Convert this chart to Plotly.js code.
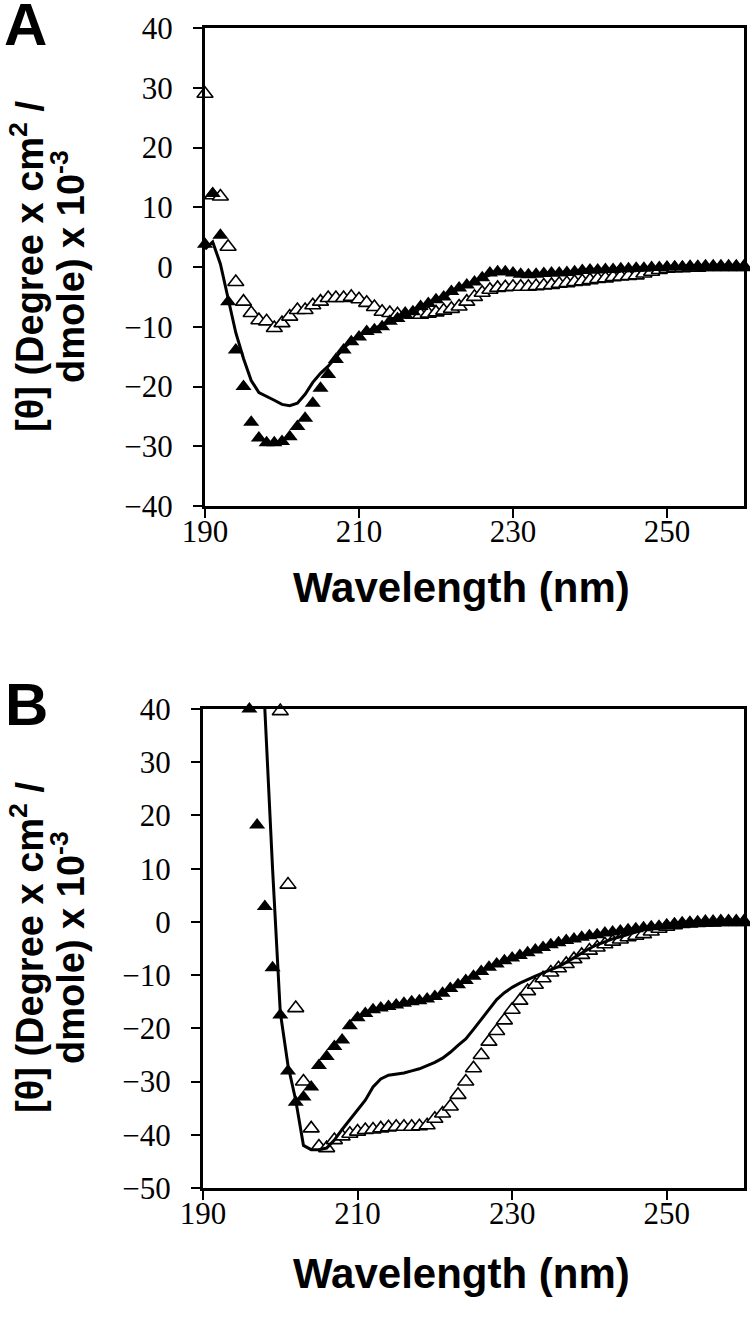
<!DOCTYPE html>
<html>
<head>
<meta charset="utf-8">
<script src="https://cdn.plot.ly/plotly-3.0.1.min.js"></script>
<style>html,body{margin:0;padding:0;background:#fff;}#chart{width:750px;height:1332px;}</style>
</head>
<body>
<div id="chart"></div>
<script>
// ---------- Panel A ----------
const wlA = [190,191,192,193,194,195,196,197,198,199,200,201,202,203,204,205,206,207,208,209,210,211,212,213,214,215,216,217,218,219,220,221,222,223,224,225,226,227,228,229,230,231,232,233,234,235,236,237,238,239,240,241,242,243,244,245,246,247,248,249,250,251,252,253,254,255,256,257,258,259,260];
const filledA = [3.8,12.3,5.3,-5.8,-13.9,-20,-26,-28.6,-29.4,-29.4,-29.2,-28.4,-26.7,-25.3,-22.8,-20.3,-18,-15.5,-13.9,-12.5,-11.7,-10.8,-10.5,-10,-9.1,-8.6,-8,-7.5,-6.6,-6.1,-5.5,-5,-4.1,-3.5,-3,-2.5,-1.8,-1.0,-0.8,-0.8,-1.0,-1.2,-1.3,-1.2,-1.1,-1.0,-1.0,-0.9,-0.8,-0.6,-0.5,-0.5,-0.4,-0.4,-0.3,-0.3,-0.2,-0.2,-0.1,-0.1,0,0,0,0,0,0,0,0,0,0,0];
const openA = [29,12,11.8,3.4,-2.5,-5.8,-7.7,-8.9,-9.1,-10.2,-9.4,-8.3,-7.2,-7.2,-6.4,-5.8,-5.2,-5.2,-5.2,-5.0,-5.4,-6.0,-6.7,-7.5,-7.7,-7.9,-7.9,-8.0,-8.0,-7.8,-7.6,-7.3,-7.0,-6.6,-5.8,-5.0,-4.3,-3.8,-3.5,-3.4,-3.3,-3.3,-3.3,-3.2,-3.1,-3.0,-2.8,-2.7,-2.5,-2.4,-2.2,-2.0,-1.9,-1.7,-1.6,-1.5,-1.4,-1.1,-0.8,-0.5,-0.3,-0.2,-0.2,-0.1,-0.1,0,0,0,0,0,0];
const lineA = [3.0,4.2,0.5,-5.5,-11,-15.3,-19,-21,-21.6,-22.3,-23,-23.2,-22.8,-21.3,-19.3,-17.8,-16.6,-15.0,-13.6,-12.4,-11.5,-10.8,-10.3,-9.8,-9.2,-8.6,-8.0,-7.5,-6.8,-6.2,-5.6,-5.0,-4.3,-3.6,-3.0,-2.5,-1.9,-1.3,-1.0,-1.0,-1.1,-1.2,-1.2,-1.2,-1.1,-1.0,-1.0,-0.9,-0.8,-0.6,-0.5,-0.5,-0.4,-0.4,-0.3,-0.3,-0.2,-0.2,-0.1,-0.1,0,0,0,0,0,0,0,0,0,0,0];

// ---------- Panel B ----------
const wlFilledB = [196,197,198,199,200,201,202,203,204,205,206,207,208,209,210,211,212,213,214,215,216,217,218,219,220,221,222,223,224,225,226,227,228,229,230,231,232,233,234,235,236,237,238,239,240,241,242,243,244,245,246,247,248,249,250,251,252,253,254,255,256,257,258,259,260];
const filledB = [40,18.2,2.9,-8.6,-17.5,-28,-33.9,-32.9,-31,-27,-25.3,-23.4,-22.2,-19.5,-18,-17.2,-16.5,-16.2,-15.9,-15.6,-15.3,-15.0,-14.8,-14.5,-14.0,-13.4,-12.5,-11.8,-11.0,-10.2,-9.3,-8.5,-7.9,-7.3,-6.8,-6.3,-5.8,-5.3,-4.8,-4.3,-3.9,-3.5,-3.2,-2.9,-2.6,-2.4,-2.1,-1.9,-1.7,-1.5,-1.3,-1.1,-0.9,-0.8,-0.6,-0.5,-0.4,-0.3,-0.3,-0.2,-0.2,-0.1,-0.1,0,0];
const wlOpenB = [200,201,202,203,204,205,206,207,208,209,210,211,212,213,214,215,216,217,218,219,220,221,222,223,224,225,226,227,228,229,230,231,232,233,234,235,236,237,238,239,240,241,242,243,244,245,246,247,248,249,250,251,252,253,254,255,256,257,258,259,260];
const openB = [39.6,7,-16.2,-30,-38.8,-42.2,-42.5,-41,-40.3,-39.8,-39.4,-39.1,-39,-38.8,-38.6,-38.5,-38.5,-38.5,-38.4,-38.2,-37,-36,-34.7,-32.5,-30,-27.5,-25,-22.5,-20.5,-18.5,-16.5,-14.8,-13,-11.8,-10.6,-9.5,-8.7,-7.9,-7,-6.2,-5.4,-4.8,-4.2,-3.7,-3.3,-2.9,-2.6,-2.3,-1.8,-1.3,-0.9,-0.6,-0.4,-0.3,-0.2,-0.1,-0.1,0,0,0,0];
const wlLineB = [198,199,200,201,202,203,204,205,206,207,208,209,210,211,212,213,214,215,216,217,218,219,220,221,222,223,224,225,226,227,228,229,230,231,232,233,234,235,236,237,238,239,240,241,242,243,244,245,246,247,248,249,250,251,252,253,254,255,256,257,258,259,260];
const lineB = [40,10,-17,-27,-33.5,-42,-42.8,-42.8,-42.5,-41,-39,-37.2,-35.5,-33.5,-31,-29.5,-28.8,-28.6,-28.4,-28,-27.6,-27,-26.4,-25.6,-24.5,-23.2,-22,-20.2,-18.3,-16.3,-14.6,-13.3,-12.3,-11.5,-10.8,-10.2,-9.6,-9,-8.4,-7.6,-6.7,-5.8,-5,-4.3,-3.7,-3.2,-2.8,-2.3,-1.9,-1.5,-1.1,-0.8,-0.5,-0.3,-0.2,-0.1,-0.1,0,0,0,0,0,0];

const xTicks = [190,210,230,250];
const yTicksA = [40,30,20,10,0,-10,-20,-30,-40];
const yTicksB = [40,30,20,10,0,-10,-20,-30,-40,-50];

const xTitle = 'Wavelength (nm)';
const yTitleLine1 = '[θ] (Degree x cm<sup>2</sup> /';
const yTitleLine2 = 'dmole) x 10<sup>-3</sup>';

const H = 1332, W = 750;
const openMarker = {symbol:'triangle-up', size:14, color:'#ffffff', line:{color:'#000', width:1.6}};
const filledMarker = {symbol:'triangle-up', size:14, color:'#000000', line:{color:'#000', width:0}};

function traces(xa, ya, wlO, yO, wlF, yF, wlL, yL) {
  return [
    {x:wlO, y:yO, xaxis:xa, yaxis:ya, type:'scatter', mode:'markers', marker:openMarker, cliponaxis:false, showlegend:false},
    {x:wlF, y:yF, xaxis:xa, yaxis:ya, type:'scatter', mode:'markers', marker:filledMarker, cliponaxis:false, showlegend:false},
    {x:wlL, y:yL, xaxis:xa, yaxis:ya, type:'scatter', mode:'lines', line:{color:'#000', width:3}, cliponaxis:true, showlegend:false}
  ];
}

const data = [].concat(
  traces('x','y', wlA, openA, wlA, filledA, wlA, lineA),
  traces('x2','y2', wlOpenB, openB, wlFilledB, filledB, wlLineB, lineB)
);

const tickFont = {family:'Liberation Serif', size:31, color:'#000'};
function xaxis(anchor, dom) {
  return {domain:dom, anchor:anchor, range:[190,260], tickvals:xTicks, ticktext:xTicks.map(String),
    showgrid:false, zeroline:false, showline:true, linewidth:3, linecolor:'#000', mirror:true,
    ticks:'outside', ticklen:9, tickwidth:2, tickcolor:'#000', tickfont:tickFont, ticklabelstandoff:-13};
}
function yaxis(anchor, dom, rng, tv) {
  return {domain:dom, anchor:anchor, range:rng, tickvals:tv, ticktext:tv.map(v => v < 0 ? '\u2212' + Math.abs(v) : String(v)),
    showgrid:false, zeroline:false, showline:true, linewidth:3, linecolor:'#000', mirror:true,
    ticks:'outside', ticklen:9, tickwidth:2, tickcolor:'#000', tickfont:tickFont, ticklabelstandoff:14};
}

const sans = 'Liberation Sans';
function ann(text, xpx, ypx, size, angle) {
  return {text:'<b>'+text+'</b>', xref:'paper', yref:'paper', x:xpx/W, y:1-ypx/H, showarrow:false,
    textangle:angle||0, font:{family:sans, size:size, color:'#000'}, xanchor:'center', yanchor:'middle'};
}

const layout = {
  width:W, height:H, margin:{l:0,r:0,t:0,b:0}, paper_bgcolor:'#fff', plot_bgcolor:'#fff', showlegend:false,
  xaxis: xaxis('y', [205/W, 744/W]),
  yaxis: yaxis('x', [1-506/H, 1-28/H], [-40,40], yTicksA),
  xaxis2: xaxis('y2', [203/W, 744/W]),
  yaxis2: yaxis('x2', [1-1188/H, 1-709/H], [-50,40], yTicksB),
  annotations: [
    ann('A', 25, 24, 60),
    ann('B', 27, 704, 60),
    ann(xTitle, 461, 588, 42),
    ann(xTitle, 461, 1273, 42),
    ann(yTitleLine1, 27, 267, 38, -90),
    ann(yTitleLine2, 68, 267, 38, -90),
    ann(yTitleLine1, 27, 948, 38, -90),
    ann(yTitleLine2, 68, 948, 38, -90)
  ]
};

Plotly.newPlot('chart', data, layout, {staticPlot:true, displayModeBar:false});
</script>
</body>
</html>
